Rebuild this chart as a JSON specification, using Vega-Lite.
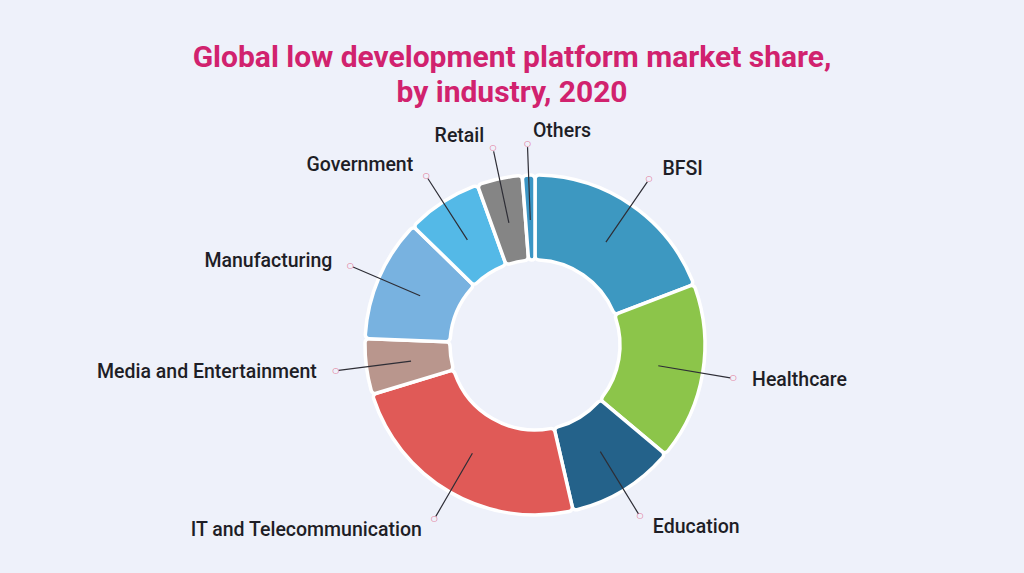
{
  "$schema": "https://vega.github.io/schema/vega-lite/v6.json",
  "width": 978,
  "height": 450,
  "autosize": {"type": "none"},
  "padding": {"left": 46, "top": 120, "right": 0, "bottom": 3},
  "background": "#eef1fa",
  "config": {"view": {"stroke": null}},
  "title": {
    "text": ["Global low development platform market share,", "by industry, 2020"],
    "font": "Roboto",
    "fontSize": 30,
    "fontWeight": "bold",
    "color": "#d1226e",
    "anchor": "middle",
    "dx": -23,
    "offset": 12,
    "lineHeight": 35
  },
  "data": {
    "values": [
      {"industry": "BFSI", "share": 19.2, "rank": 1},
      {"industry": "Healthcare", "share": 16.9, "rank": 2},
      {"industry": "Education", "share": 10.3, "rank": 3},
      {"industry": "IT and Telecommunication", "share": 23.9, "rank": 4},
      {"industry": "Media and Entertainment", "share": 5.3, "rank": 5},
      {"industry": "Manufacturing", "share": 11.7, "rank": 6},
      {"industry": "Government", "share": 7.2, "rank": 7},
      {"industry": "Retail", "share": 4.3, "rank": 8},
      {"industry": "Others", "share": 1.2, "rank": 9}
    ]
  },
  "encoding": {
    "theta": {"field": "share", "type": "quantitative", "stack": true},
    "order": {"field": "rank", "type": "quantitative"},
    "detail": {"field": "industry", "type": "nominal"}
  },
  "layer": [
    {
      "mark": {"type": "arc", "innerRadius": 85, "outerRadius": 170, "stroke": "#ffffff", "strokeWidth": 3.5, "cornerRadius": 4},
      "encoding": {
        "color": {
          "field": "industry",
          "type": "nominal",
          "legend": null,
          "scale": {
            "domain": ["BFSI", "Healthcare", "Education", "IT and Telecommunication", "Media and Entertainment", "Manufacturing", "Government", "Retail", "Others"],
            "range": ["#3d98c1", "#8cc54a", "#24628a", "#e05a57", "#b9968d", "#78b2e0", "#54b9e7", "#858585", "#3b95c4"]
          }
        }
      }
    },
    {
      "mark": {"type": "arc", "innerRadius": 125, "outerRadius": 198, "padAngle": 3, "filled": false, "color": "#2e2e36", "strokeWidth": 1.2},
      "encoding": {}
    },
    {
      "mark": {"type": "text", "radius": 201, "text": "○", "font": "DejaVu Sans", "fontSize": 8, "color": "#e0587f", "baseline": "middle", "align": "center"},
      "encoding": {}
    },
    {
      "mark": {
        "type": "text",
        "radius": 214,
        "font": "Roboto",
        "fontSize": 19.5,
        "fontWeight": 500,
        "color": "#1e1e26",
        "baseline": "middle",
        "align": {"expr": "(datum.share_start + datum.share_end) / 2 < 50 || (datum.share_start + datum.share_end) / 2 > 98 ? 'left' : 'right'"},
        "dx": {"expr": "(datum.share_start + datum.share_end) / 2 < 50 || (datum.share_start + datum.share_end) / 2 > 98 ? 6 : -6"}
      },
      "encoding": {"text": {"field": "industry", "type": "nominal"}}
    }
  ]
}
